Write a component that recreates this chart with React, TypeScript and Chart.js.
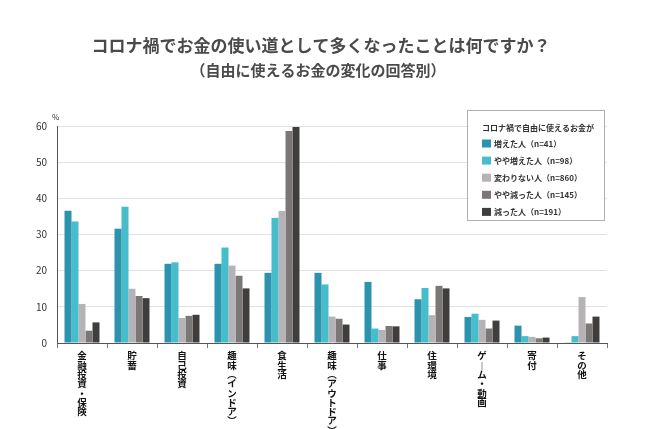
import React, { useEffect, useRef } from "react";
import { Chart, registerables } from "chart.js";

Chart.register(...registerables);

const titleText = "コロナ禍でお金の使い道として多くなったことは何ですか？";
const subtitleText = "（自由に使えるお金の変化の回答別）";
const legendTitle = "コロナ禍で自由に使えるお金が";
const unitLabel = "%";

const categories = [
  "金融投資・保険",
  "貯蓄",
  "自己投資",
  "趣味（インドア）",
  "食生活",
  "趣味（アウトドア）",
  "仕事",
  "住環境",
  "ゲーム・動画",
  "寄付",
  "その他",
];

const seriesNames = [
  "増えた人（n=41）",
  "やや増えた人（n=98）",
  "変わりない人（n=860）",
  "やや減った人（n=145）",
  "減った人（n=191）",
];

const increased = [36.6, 31.6, 21.9, 21.9, 19.4, 19.4, 16.9, 12.1, 7.2, 4.8, 0.2];
const slightlyIncreased = [33.6, 37.7, 22.3, 26.4, 34.6, 16.2, 4.0, 15.2, 8.1, 1.9, 1.9];
const unchanged = [10.8, 15.0, 6.9, 21.4, 36.5, 7.3, 3.6, 7.7, 6.4, 1.7, 12.7];
const slightlyDecreased = [3.4, 13.0, 7.5, 18.6, 58.6, 6.7, 4.7, 15.8, 4.0, 1.3, 5.4];
const decreased = [5.7, 12.4, 7.8, 15.1, 59.7, 5.1, 4.6, 15.1, 6.2, 1.5, 7.3];

const yTicks = [0, 10, 20, 30, 40, 50, 60];

const colors = ["#2b93ad", "#47bccb", "#b6b2b5", "#7b7777", "#403e3d"];

const FONT = "'Noto Sans CJK JP', 'Noto Sans', sans-serif";

const verticalMap: Record<string, string> = {
  "（": "︵",
  "）": "︶",
  "(": "︵",
  ")": "︶",
  "ー": "︱",
};

function toVertical(s: string): string[] {
  return Array.from(s).map((c) => verticalMap[c] ?? c);
}

const decorPlugin = {
  id: "decor",
  afterDraw(chart: any) {
    const ctx = chart.ctx as CanvasRenderingContext2D;
    ctx.save();
    // Titles
    ctx.fillStyle = "#4a4a4a";
    ctx.textAlign = "center";
    ctx.textBaseline = "middle";
    ctx.font = `bold 17px ${FONT}`;
    ctx.fillText(titleText, 321, 46);
    ctx.font = `bold 15px ${FONT}`;
    ctx.fillText(subtitleText, 318, 70);

    // unit label
    ctx.fillStyle = "#333";
    ctx.font = `8px ${FONT}`;
    ctx.textAlign = "left";
    ctx.fillText(unitLabel, 52, 117);

    // legend box
    const bx = 467.5, by = 110.5, bw = 137, bh = 110;
    ctx.fillStyle = "#ffffff";
    ctx.fillRect(bx, by, bw, bh);
    ctx.strokeStyle = "#b0b0b0";
    ctx.lineWidth = 1;
    ctx.strokeRect(bx, by, bw, bh);

    ctx.fillStyle = "#333";
    ctx.font = `bold 8px ${FONT}`;
    ctx.textAlign = "left";
    ctx.textBaseline = "middle";
    ctx.fillText(legendTitle, 482, 128);

    chart.data.datasets.forEach((ds: any, i: number) => {
      const cy = 143.5 + i * 17.1;
      ctx.fillStyle = ds.backgroundColor;
      ctx.fillRect(482, cy - 4, 9, 8);
      ctx.fillStyle = "#333";
      ctx.font = `bold 8px ${FONT}`;
      ctx.fillText(ds.label, 494, cy);
    });
    ctx.restore();
  },
};

export default function App() {
  const ref = useRef<HTMLCanvasElement | null>(null);

  useEffect(() => {
    document.body.style.margin = "0";
    if (!ref.current) return;
    const seriesData = [increased, slightlyIncreased, unchanged, slightlyDecreased, decreased];
    const chart = new Chart(ref.current, {
      type: "bar",
      data: {
        labels: categories.map(toVertical),
        datasets: seriesData.map((d, i) => ({
          label: seriesNames[i],
          data: d,
          backgroundColor: colors[i],
          borderWidth: 0,
          categoryPercentage: 0.7,
          barPercentage: 1.0,
        })),
      },
      options: {
        responsive: false,
        animation: false,
        devicePixelRatio: 1,
        layout: { padding: { left: 0, right: 43, top: 126, bottom: 0 } },
        plugins: {
          legend: { display: false },
          title: { display: false },
          tooltip: { enabled: false },
        },
        scales: {
          x: {
            grid: {
              display: true,
              drawOnChartArea: false,
              drawTicks: true,
              tickLength: 5,
              offset: true,
              color: "#777",
            },
            border: { display: true, color: "#555", width: 1 },
            ticks: {
              autoSkip: false,
              maxRotation: 0,
              minRotation: 0,
              padding: 3,
              color: "#111",
              font: { family: FONT, size: 9.5, weight: "bold", lineHeight: 0.98 },
            },
            afterFit(scale: any) {
              scale.height = 86;
            },
          },
          y: {
            min: 0,
            max: 60,
            afterBuildTicks(scale: any) {
              scale.ticks = yTicks.map((v) => ({ value: v }));
            },
            grid: {
              color: "#e2e2e2",
              drawTicks: false,
              lineWidth: 1,
            },
            border: { display: true, color: "#555", width: 1 },
            ticks: {
              padding: 10,
              color: "#333",
              font: { family: FONT, size: 10 },
            },
            afterFit(scale: any) {
              scale.width = 57;
            },
          },
        },
      },
      plugins: [decorPlugin],
    });
    return () => chart.destroy();
  }, []);

  return (
    <div style={{ position: "absolute", left: 0, top: 0, width: 650, height: 429, background: "#fff" }}>
      <canvas ref={ref} width={650} height={429} />
    </div>
  );
}
